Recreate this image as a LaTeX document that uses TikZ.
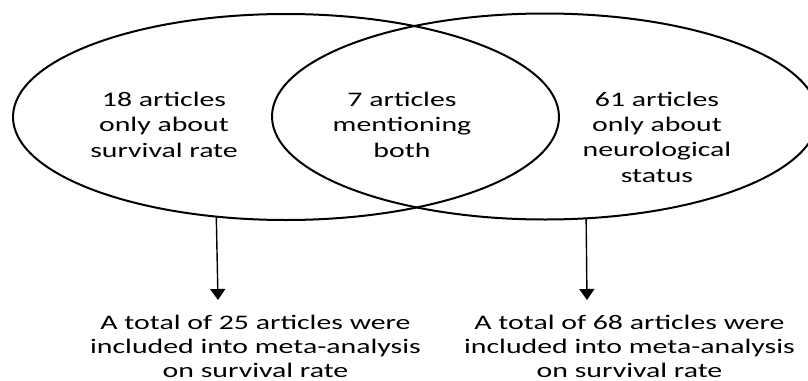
\documentclass[tikz,border=0pt]{standalone}
\usepackage{fontspec}
\setmainfont{Carlito}
\usetikzlibrary{shapes.geometric,arrows.meta}
\tikzset{
  venn/.style={draw, ellipse, line width=2pt, minimum width=546pt, minimum height=206pt, inner sep=0pt, outer sep=0pt},
  toptxt/.style={font=\fontsize{20.7}{25.3}\selectfont, align=center, xscale=1.44, inner sep=0pt, anchor=base},
  bottxt/.style={font=\fontsize{20.7}{24}\selectfont, align=center, xscale=1.44, inner sep=0pt, anchor=base},
  arr/.style={line width=1.4pt, -{Triangle[width=15pt,length=11pt]}}
}
\begin{document}
\begin{tikzpicture}[x=1pt, y=-1pt]
\useasboundingbox[fill=white] (0,0) rectangle (808,380);
\node[venn] (L) at (286,117) {};
\node[venn] (R) at (545,116.5) {};
\node[toptxt] (tl) at (164,157) {18 articles\\only about\\survival rate};
\node[toptxt] (tm) at (402,157) {7 articles\\mentioning\\both};
\node[toptxt] (tr) at (657,182) {61 articles\\only about\\neurological\\status};
\node[bottxt] (bl) at (255.5,377) {A total of 25 articles were\\included into meta-analysis\\on survival rate};
\node[bottxt] (br) at (629.5,377) {A total of 68 articles were\\included into meta-analysis\\on survival rate};
\coordinate (e1) at (218,300);
\coordinate (e2) at (587,300);
\draw[arr] (L.235.7) -- (e1);
\draw[arr] (R.292.4) -- (e2);
\end{tikzpicture}
\end{document}
